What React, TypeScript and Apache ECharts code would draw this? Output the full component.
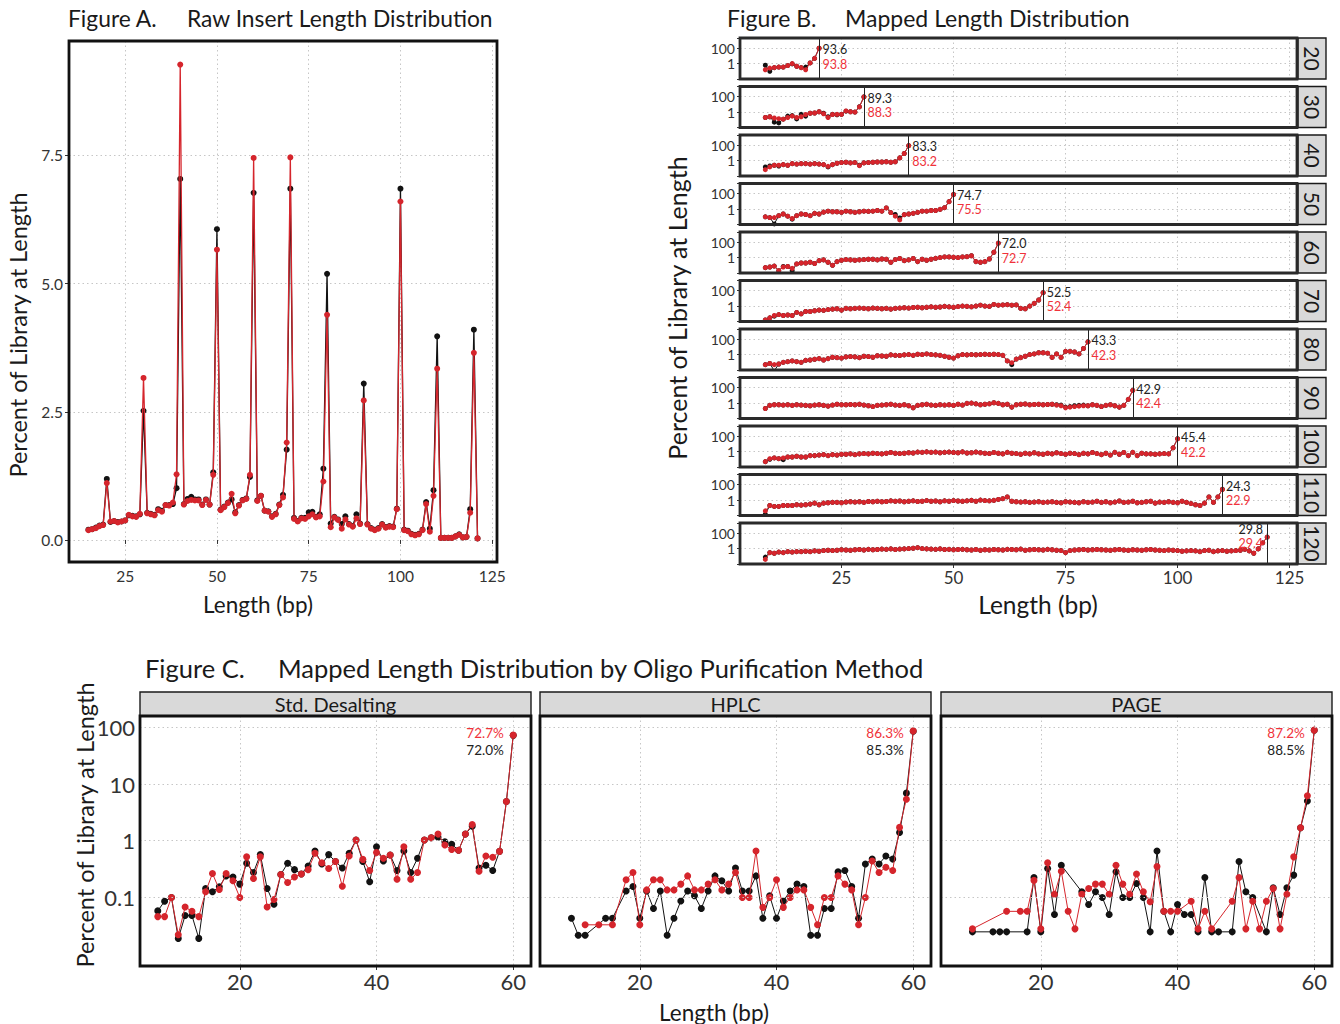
import React, { useEffect, useRef } from 'react';
import * as echarts from 'echarts';

const FONT = 'Lato, "Open Sans", "DejaVu Sans", sans-serif';
const RED = '#d5252c';
const BLACK = '#121212';
const RED_TEXT = '#f0323a';
const INK = '#1a1a1a';
const TICK_INK = '#333333';
const GRID_LINE = '#c6c6c6';

// ---------------- Figure A : raw insert length distribution ----------------
const A_FIRST_LENGTH = 15;
const A_BLACK = [
  0.2, 0.21, 0.24, 0.28, 0.3, 1.19, 0.35, 0.37, 0.35, 0.36,
  0.38, 0.48, 0.47, 0.46, 0.5, 2.52, 0.53, 0.51, 0.49, 0.6,
  0.57, 0.68, 0.68, 0.7, 1.01, 7.04, 0.7, 0.8, 0.84, 0.79,
  0.79, 0.69, 0.79, 0.69, 1.32, 6.06, 0.59, 0.65, 0.73, 0.79,
  0.54, 0.68, 0.78, 0.81, 1.23, 6.77, 0.77, 0.86, 0.57, 0.56,
  0.46, 0.51, 0.69, 0.88, 1.76, 6.85, 0.43, 0.37, 0.43, 0.43,
  0.54, 0.55, 0.45, 0.5, 1.39, 5.19, 0.32, 0.45, 0.4, 0.31,
  0.46, 0.31, 0.27, 0.5, 0.32, 3.05, 0.31, 0.23, 0.2, 0.23,
  0.31, 0.25, 0.27, 0.26, 0.61, 6.85, 0.2, 0.18, 0.12, 0.1,
  0.12, 0.2, 0.74, 0.22, 0.97, 3.97, 0.04, 0.04, 0.04, 0.04,
  0.07, 0.11, 0.05, 0.06, 0.6, 4.1, 0.03,
];
const A_RED = [
  0.19, 0.21, 0.23, 0.27, 0.29, 1.11, 0.36, 0.37, 0.34, 0.36,
  0.38, 0.49, 0.46, 0.45, 0.51, 3.16, 0.52, 0.5, 0.48, 0.58,
  0.55, 0.68, 0.67, 0.73, 1.28, 9.27, 0.69, 0.76, 0.78, 0.77,
  0.77, 0.68, 0.78, 0.69, 1.27, 5.66, 0.58, 0.64, 0.72, 0.9,
  0.52, 0.67, 0.77, 0.8, 1.27, 7.45, 0.76, 0.86, 0.57, 0.55,
  0.45, 0.5, 0.68, 0.83, 1.9, 7.46, 0.41, 0.36, 0.42, 0.41,
  0.46, 0.5, 0.44, 0.46, 1.14, 4.39, 0.25, 0.44, 0.39, 0.22,
  0.4, 0.3, 0.26, 0.42, 0.31, 2.72, 0.3, 0.22, 0.19, 0.22,
  0.3, 0.24, 0.26, 0.25, 0.6, 6.6, 0.19, 0.17, 0.11, 0.09,
  0.11, 0.19, 0.7, 0.16, 0.86, 3.34, 0.04, 0.04, 0.04, 0.04,
  0.07, 0.1, 0.05, 0.06, 0.53, 3.65, 0.03,
];
const A_X_TICKS = [25, 50, 75, 100, 125];
const A_Y_TICKS = [0, 2.5, 5, 7.5];

// ---------------- Figure B : mapped length distribution per oligo length ----------------
const B_FIRST_LENGTH = 8;
const B_PANELS = [20, 30, 40, 50, 60, 70, 80, 90, 100, 110, 120];
const B_LABEL_BLACK = ['93.6', '89.3', '83.3', '74.7', '72.0', '52.5', '43.3', '42.9', '45.4', '24.3', '29.8'];
const B_LABEL_RED = ['93.8', '88.3', '83.2', '75.5', '72.7', '52.4', '42.3', '42.4', '42.2', '22.9', '29.4'];

const B20_BLACK = [0.6, 0.1, 0.3, 0.35, 0.35, 0.55, 0.9, 0.45, 0.3, 0.35, 1.2, 4.6, 93.6];
const B20_RED = [0.16, 0.26, 0.3, 0.35, 0.35, 0.55, 1.0, 0.45, 0.3, 0.16, 1.2, 4.6, 93.8];
const B30_BLACK = [0.2, 0.25, 0.05, 0.04, 0.12, 0.3, 0.35, 0.13, 0.5, 0.3, 0.7, 0.75, 1.1, 0.7, 0.25, 0.5, 0.45, 0.5, 1.3, 1.1, 1.0, 4.8, 89.3];
const B30_RED = [0.2, 0.25, 0.17, 0.14, 0.12, 0.2, 0.3, 0.2, 0.25, 0.48, 0.7, 0.75, 1.1, 0.6, 0.2, 0.48, 0.5, 0.5, 1.4, 1.1, 1.0, 4.6, 88.3];
const B40_BLACK = [0.15, 0.2, 0.25, 0.2, 0.3, 0.25, 0.4, 0.35, 0.4, 0.4, 0.35, 0.4, 0.35, 0.3, 0.15, 0.3, 0.45, 0.55, 0.6, 0.5, 0.55, 0.25, 0.5, 0.55, 0.6, 0.65, 0.65, 0.7, 0.6, 0.7, 2.2, 8, 83.3];
const B40_RED = [0.066, 0.15, 0.25, 0.25, 0.3, 0.25, 0.4, 0.35, 0.4, 0.4, 0.35, 0.4, 0.35, 0.3, 0.18, 0.3, 0.45, 0.55, 0.6, 0.5, 0.55, 0.22, 0.5, 0.55, 0.6, 0.65, 0.65, 0.7, 0.6, 0.7, 2.2, 8, 83.2];
const B50_BLACK = [0.1, 0.08, 0.012, 0.14, 0.23, 0.12, 0.05, 0.14, 0.23, 0.2, 0.14, 0.28, 0.23, 0.4, 0.53, 0.45, 0.45, 0.38, 0.53, 0.45, 0.38, 0.45, 0.53, 0.5, 0.53, 0.65, 0.53, 1.4, 0.35, 0.2, 0.07, 0.19, 0.23, 0.28, 0.38, 0.53, 0.53, 0.65, 0.65, 0.9, 1.5, 9, 74.7];
const B50_RED = [0.1, 0.08, 0.08, 0.14, 0.23, 0.12, 0.06, 0.14, 0.23, 0.2, 0.14, 0.28, 0.23, 0.4, 0.53, 0.45, 0.45, 0.38, 0.53, 0.45, 0.38, 0.45, 0.53, 0.5, 0.53, 0.65, 0.53, 1.4, 0.35, 0.12, 0.04, 0.19, 0.23, 0.28, 0.38, 0.53, 0.53, 0.65, 0.65, 0.9, 1.5, 9, 75.5];
const B60_BLACK = [
  0.05, 0.06, 0.08, 0.02, 0.07, 0.07, 0.02, 0.15, 0.2, 0.2,
  0.25, 0.17, 0.4, 0.5, 0.25, 0.1, 0.3, 0.45, 0.55, 0.5,
  0.45, 0.5, 0.55, 0.6, 0.6, 0.5, 0.65, 0.6, 0.25, 0.55,
  0.75, 0.4, 0.5, 0.75, 0.3, 0.6, 0.45, 0.6, 0.8, 1.0,
  1.2, 1.2, 1.1, 1.0, 1.2, 1.3, 1.7, 0.3, 0.25, 0.3,
  0.65, 4.8, 72.0,
];
const B60_RED = [
  0.05, 0.06, 0.08, 0.02, 0.06, 0.07, 0.04, 0.15, 0.2, 0.2,
  0.25, 0.17, 0.4, 0.5, 0.25, 0.1, 0.3, 0.45, 0.55, 0.5,
  0.45, 0.5, 0.55, 0.6, 0.6, 0.5, 0.65, 0.6, 0.25, 0.55,
  0.75, 0.4, 0.5, 0.75, 0.3, 0.6, 0.45, 0.6, 0.8, 1.0,
  1.2, 1.2, 1.1, 1.0, 1.2, 1.3, 1.7, 0.3, 0.25, 0.3,
  0.65, 4.8, 72.7,
];
const B70_BLACK = [
  0.016, 0.03, 0.05, 0.08, 0.06, 0.07, 0.06, 0.15, 0.1, 0.2,
  0.2, 0.25, 0.3, 0.28, 0.35, 0.4, 0.45, 0.3, 0.5, 0.45,
  0.5, 0.55, 0.5, 0.45, 0.55, 0.5, 0.45, 0.5, 0.4, 0.5,
  0.55, 0.6, 0.55, 0.65, 0.7, 0.6, 0.7, 0.8, 0.7, 0.75,
  0.9, 0.8, 0.7, 0.85, 1.0, 0.9, 0.8, 1.0, 1.3, 1.0,
  0.9, 1.6, 1.3, 1.4, 1.5, 1.3, 1.4, 0.5, 0.45, 1.0,
  2.2, 6, 52.5,
];
const B70_RED = [
  0.016, 0.03, 0.06, 0.08, 0.06, 0.07, 0.06, 0.15, 0.1, 0.2,
  0.2, 0.25, 0.3, 0.28, 0.35, 0.4, 0.45, 0.3, 0.5, 0.45,
  0.5, 0.55, 0.5, 0.45, 0.55, 0.5, 0.45, 0.5, 0.4, 0.5,
  0.55, 0.6, 0.55, 0.65, 0.7, 0.6, 0.7, 0.8, 0.7, 0.75,
  0.9, 0.8, 0.7, 0.85, 1.0, 0.9, 0.8, 1.0, 1.3, 1.0,
  0.9, 1.6, 1.3, 1.4, 1.5, 1.3, 1.4, 0.5, 0.45, 1.0,
  2.2, 6, 52.4,
];
const B80_BLACK = [
  0.05, 0.07, 0.008, 0.06, 0.1, 0.12, 0.15, 0.12, 0.1, 0.18,
  0.2, 0.25, 0.3, 0.2, 0.3, 0.45, 0.4, 0.35, 0.5, 0.55,
  0.5, 0.4, 0.6, 0.55, 0.45, 0.7, 0.65, 0.6, 0.9, 0.8,
  0.75, 0.9, 1.0, 0.8, 1.1, 1.0, 1.2, 1.0, 0.9, 0.8,
  0.6, 0.45, 0.35, 0.7, 1.0, 0.9, 1.0, 0.95, 1.0, 1.1,
  1.0, 1.1, 1.0, 0.8, 0.15, 0.05, 0.26, 0.4, 0.6, 1.0,
  1.2, 1.7, 1.7, 1.5, 0.43, 1.2, 0.43, 2.6, 2.6, 2.1,
  1.2, 6, 43.3,
];
const B80_RED = [
  0.05, 0.07, 0.05, 0.06, 0.1, 0.12, 0.15, 0.12, 0.1, 0.18,
  0.2, 0.25, 0.3, 0.2, 0.3, 0.45, 0.4, 0.35, 0.5, 0.55,
  0.5, 0.4, 0.6, 0.55, 0.45, 0.7, 0.65, 0.6, 0.9, 0.8,
  0.75, 0.9, 1.0, 0.8, 1.1, 1.0, 1.2, 1.0, 0.9, 0.8,
  0.6, 0.45, 0.35, 0.7, 1.0, 0.9, 1.0, 0.95, 1.0, 1.1,
  1.0, 1.1, 1.0, 0.8, 0.15, 0.09, 0.26, 0.4, 0.6, 1.0,
  1.2, 1.7, 1.7, 1.5, 0.43, 1.2, 0.43, 2.6, 2.6, 2.1,
  1.2, 6, 42.3,
];
const B90_BLACK = [
  0.2, 0.5, 0.6, 0.6, 0.55, 0.6, 0.5, 0.6, 0.55, 0.5,
  0.45, 0.55, 0.6, 0.5, 0.4, 0.55, 0.7, 0.6, 0.6, 0.65,
  0.6, 0.7, 0.55, 0.45, 0.35, 0.5, 0.55, 0.6, 0.7, 0.55,
  0.5, 0.6, 0.45, 0.25, 0.5, 0.6, 0.7, 0.55, 0.5, 0.6,
  0.55, 0.6, 0.5, 0.7, 0.55, 0.9, 1.0, 0.8, 0.6, 0.7,
  0.8, 1.1, 0.9, 0.6, 0.7, 0.3, 0.6, 0.7, 0.75, 0.6,
  0.65, 0.7, 0.6, 0.65, 0.7, 0.6, 0.55, 0.3, 0.35, 0.45,
  0.5, 0.55, 0.45, 0.6, 0.5, 0.35, 0.5, 0.6, 0.45, 0.3,
  0.5, 3.0, 42.9,
];
const B90_RED = [
  0.2, 0.5, 0.6, 0.6, 0.55, 0.6, 0.5, 0.6, 0.55, 0.5,
  0.45, 0.55, 0.6, 0.5, 0.4, 0.55, 0.7, 0.6, 0.6, 0.65,
  0.6, 0.7, 0.55, 0.45, 0.35, 0.5, 0.55, 0.6, 0.7, 0.55,
  0.5, 0.6, 0.45, 0.25, 0.5, 0.6, 0.7, 0.55, 0.5, 0.6,
  0.55, 0.6, 0.5, 0.7, 0.55, 0.9, 1.0, 0.8, 0.6, 0.7,
  0.8, 1.1, 0.9, 0.6, 0.7, 0.3, 0.6, 0.7, 0.75, 0.6,
  0.65, 0.7, 0.6, 0.65, 0.7, 0.55, 0.45, 0.25, 0.3, 0.35,
  0.4, 0.45, 0.45, 0.6, 0.5, 0.35, 0.5, 0.6, 0.45, 0.3,
  0.5, 3.0, 42.4,
];
const B100_BLACK = [
  0.05, 0.1, 0.15, 0.12, 0.09, 0.2, 0.2, 0.25, 0.2, 0.2,
  0.3, 0.3, 0.35, 0.4, 0.3, 0.4, 0.35, 0.45, 0.45, 0.5,
  0.4, 0.5, 0.55, 0.5, 0.6, 0.55, 0.5, 0.6, 0.75, 0.6,
  0.55, 0.6, 0.7, 0.65, 0.85, 0.8, 0.9, 0.8, 0.85, 0.7,
  0.8, 0.85, 0.75, 0.7, 0.9, 0.65, 0.7, 0.85, 0.7, 0.6,
  0.55, 0.75, 0.6, 0.5, 0.8, 0.6, 0.55, 0.45, 0.6, 0.5,
  0.7, 0.5, 0.45, 0.6, 0.5, 0.7, 0.55, 0.45, 0.6, 0.55,
  0.4, 0.6, 0.5, 0.75, 0.55, 0.4, 0.6, 0.35, 0.8, 0.45,
  0.75, 0.3, 0.8, 0.3, 0.6, 0.5, 0.5, 0.45, 0.5, 0.55,
  0.5, 3.0, 45.4,
];
const B100_RED = [
  0.05, 0.12, 0.15, 0.12, 0.15, 0.2, 0.2, 0.25, 0.2, 0.2,
  0.3, 0.3, 0.35, 0.4, 0.3, 0.4, 0.35, 0.45, 0.45, 0.5,
  0.4, 0.5, 0.55, 0.5, 0.6, 0.55, 0.5, 0.6, 0.75, 0.6,
  0.55, 0.6, 0.7, 0.65, 0.85, 0.8, 0.9, 0.8, 0.85, 0.7,
  0.8, 0.85, 0.75, 0.7, 0.9, 0.65, 0.7, 0.85, 0.7, 0.6,
  0.55, 0.75, 0.6, 0.5, 0.8, 0.6, 0.55, 0.45, 0.6, 0.5,
  0.7, 0.5, 0.45, 0.6, 0.5, 0.7, 0.55, 0.45, 0.6, 0.55,
  0.4, 0.6, 0.5, 0.75, 0.55, 0.4, 0.6, 0.35, 0.8, 0.45,
  0.75, 0.3, 0.8, 0.3, 0.6, 0.5, 0.5, 0.45, 0.5, 0.55,
  0.5, 3.0, 42.2,
];
const B110_BLACK = [
  0.015, 0.2, 0.15, 0.15, 0.2, 0.2, 0.2, 0.25, 0.22, 0.25,
  0.3, 0.4, 0.25, 0.4, 0.45, 0.5, 0.5, 0.45, 0.55, 0.6,
  0.55, 0.6, 0.5, 0.65, 0.6, 0.7, 0.6, 0.65, 0.8, 0.7,
  0.75, 0.6, 0.7, 0.8, 0.65, 0.7, 0.85, 0.7, 0.75, 0.6,
  0.8, 0.7, 0.85, 0.75, 0.7, 0.8, 0.9, 0.7, 1.0, 0.85,
  0.8, 0.9, 1.2, 1.5, 2.5, 0.7, 0.6, 0.55, 0.6, 0.5,
  0.55, 0.6, 0.5, 0.55, 0.6, 0.5, 0.45, 0.6, 0.55, 0.5,
  0.45, 0.6, 0.5, 0.55, 0.7, 0.5, 0.6, 0.45, 0.55, 0.75,
  0.5, 0.55, 0.7, 0.45, 0.5, 0.6, 0.7, 0.4, 0.55, 0.5,
  0.6, 0.5, 0.45, 0.7, 0.5, 0.35, 0.25, 0.2, 0.4, 2.5,
  0.5, 2.5, 24.3,
];
const B110_RED = [
  0.04, 0.2, 0.15, 0.15, 0.2, 0.2, 0.2, 0.25, 0.22, 0.25,
  0.3, 0.4, 0.25, 0.4, 0.45, 0.5, 0.5, 0.45, 0.55, 0.6,
  0.55, 0.6, 0.5, 0.65, 0.6, 0.7, 0.6, 0.65, 0.8, 0.7,
  0.75, 0.6, 0.7, 0.8, 0.65, 0.7, 0.85, 0.7, 0.75, 0.6,
  0.8, 0.7, 0.85, 0.75, 0.7, 0.8, 0.9, 0.7, 1.0, 0.85,
  0.8, 0.9, 1.2, 1.5, 2.5, 0.7, 0.6, 0.55, 0.6, 0.5,
  0.55, 0.6, 0.5, 0.55, 0.6, 0.5, 0.45, 0.6, 0.55, 0.5,
  0.45, 0.6, 0.5, 0.55, 0.7, 0.5, 0.6, 0.45, 0.55, 0.75,
  0.5, 0.55, 0.7, 0.45, 0.5, 0.6, 0.7, 0.4, 0.55, 0.5,
  0.6, 0.5, 0.45, 0.7, 0.5, 0.35, 0.25, 0.2, 0.4, 2.5,
  0.5, 2.5, 22.9,
];
const B120_BLACK = [
  0.08, 0.3, 0.25, 0.35, 0.3, 0.4, 0.35, 0.4, 0.4, 0.45,
  0.4, 0.5, 0.45, 0.55, 0.6, 0.55, 0.6, 0.7, 0.65, 0.6,
  0.7, 0.75, 0.65, 0.8, 0.7, 0.75, 0.85, 0.8, 0.9, 0.75,
  0.85, 0.9, 1.0, 1.1, 1.3, 1.0, 0.9, 0.85, 0.8, 0.9,
  0.75, 0.8, 0.7, 0.75, 0.8, 0.7, 0.65, 0.75, 0.6, 0.7,
  0.65, 0.75, 0.7, 0.65, 0.8, 0.75, 0.7, 0.85, 0.6, 0.7,
  0.75, 0.7, 0.65, 0.8, 0.7, 0.6, 0.55, 0.3, 0.55, 0.65,
  0.7, 0.75, 0.65, 0.7, 0.75, 0.7, 0.65, 0.6, 0.7, 0.75,
  0.65, 0.6, 0.7, 0.65, 0.6, 0.7, 0.75, 0.65, 0.6, 0.55,
  0.65, 0.6, 0.55, 0.45, 0.5, 0.55, 0.5, 0.4, 0.55, 0.6,
  0.4, 0.5, 0.55, 0.45, 0.5, 0.55, 0.6, 0.8, 0.5, 0.25,
  0.9, 5.5, 29.8,
];
const B120_RED = [
  0.04, 0.3, 0.25, 0.35, 0.3, 0.4, 0.35, 0.4, 0.4, 0.45,
  0.4, 0.5, 0.45, 0.55, 0.6, 0.55, 0.6, 0.7, 0.65, 0.6,
  0.7, 0.75, 0.65, 0.8, 0.7, 0.75, 0.85, 0.8, 0.9, 0.75,
  0.85, 0.9, 1.0, 1.1, 1.3, 1.0, 0.9, 0.85, 0.8, 0.9,
  0.75, 0.8, 0.7, 0.75, 0.8, 0.7, 0.65, 0.75, 0.6, 0.7,
  0.65, 0.75, 0.7, 0.65, 0.8, 0.75, 0.7, 0.85, 0.6, 0.7,
  0.75, 0.7, 0.65, 0.8, 0.7, 0.6, 0.55, 0.3, 0.55, 0.65,
  0.7, 0.75, 0.65, 0.7, 0.75, 0.7, 0.65, 0.6, 0.7, 0.75,
  0.65, 0.6, 0.7, 0.65, 0.6, 0.7, 0.75, 0.65, 0.6, 0.55,
  0.65, 0.6, 0.55, 0.45, 0.5, 0.55, 0.5, 0.4, 0.55, 0.6,
  0.4, 0.5, 0.55, 0.45, 0.5, 0.55, 0.6, 0.8, 0.5, 0.25,
  0.9, 5.5, 29.4,
];
const B_BLACK = [B20_BLACK, B30_BLACK, B40_BLACK, B50_BLACK, B60_BLACK, B70_BLACK, B80_BLACK, B90_BLACK, B100_BLACK, B110_BLACK, B120_BLACK];
const B_RED = [B20_RED, B30_RED, B40_RED, B50_RED, B60_RED, B70_RED, B80_RED, B90_RED, B100_RED, B110_RED, B120_RED];
const B_X_TICKS = [25, 50, 75, 100, 125];
const B_Y_TICKS = [1, 100];

// ---------------- Figure C : by oligo purification method ----------------
const C_METHODS = ['Std. Desalting', 'HPLC', 'PAGE'];
const C_LABEL_RED = ['72.7%', '86.3%', '87.2%'];
const C_LABEL_BLACK = ['72.0%', '85.3%', '88.5%'];
const C_Y_TICKS = [0.1, 1, 10, 100];
const C_X_TICKS = [20, 40, 60];

const C_SD_X = [8, 9, 10, 11, 12, 13, 14, 15, 16, 17, 18, 19, 20, 21, 22, 23, 24, 25, 26, 27, 28, 29, 30, 31, 32, 33, 34, 35, 36, 37, 38, 39, 40, 41, 42, 43, 44, 45, 46, 47, 48, 49, 50, 51, 52, 53, 54, 55, 56, 57, 58, 59, 60];
const C_SD_BLACK = [
  0.058, 0.086, 0.10, 0.019, 0.048, 0.048, 0.019, 0.144, 0.126, 0.154,
  0.24, 0.23, 0.172, 0.4, 0.276, 0.57, 0.144, 0.076, 0.255, 0.4,
  0.31, 0.26, 0.36, 0.66, 0.39, 0.57, 0.43, 0.33, 0.6, 1.03,
  0.43, 0.19, 0.78, 0.44, 0.56, 0.30, 0.66, 0.276, 0.49, 1.03,
  1.13, 1.15, 0.96, 0.87, 0.68, 1.31, 1.81, 0.33, 0.37, 0.30,
  0.65, 4.9, 72.0,
];
const C_SD_RED = [
  0.046, 0.046, 0.10, 0.022, 0.068, 0.057, 0.046, 0.126, 0.265, 0.138,
  0.265, 0.197, 0.10, 0.52, 0.216, 0.52, 0.068, 0.092, 0.255, 0.184,
  0.23, 0.26, 0.31, 0.6, 0.41, 0.325, 0.43, 0.158, 0.54, 1.03,
  0.47, 0.30, 0.62, 0.49, 0.56, 0.21, 0.78, 0.21, 0.276, 1.03,
  1.13, 1.31, 0.84, 0.70, 0.68, 1.31, 1.94, 0.29, 0.54, 0.51,
  0.65, 4.9, 72.7,
];
const C_HPLC_BLACK_X = [10, 11, 12, 15, 16, 18, 19, 20, 21, 22, 23, 24, 25, 26, 27, 28, 29, 30, 31, 32, 33, 34, 35, 36, 37, 38, 39, 40, 41, 42, 43, 44, 45, 46, 47, 48, 49, 50, 51, 52, 53, 54, 55, 56, 57, 58, 59, 60];
const C_HPLC_BLACK = [
  0.043, 0.0216, 0.0216, 0.043, 0.043,
  0.13, 0.156, 0.043, 0.13, 0.064, 0.13, 0.0216, 0.043, 0.087, 0.13,
  0.107, 0.064, 0.13, 0.24, 0.197, 0.13, 0.33, 0.13, 0.13, 0.24,
  0.043, 0.107, 0.043, 0.087, 0.13, 0.172, 0.156, 0.0216, 0.0216, 0.064,
  0.064, 0.284, 0.30, 0.156, 0.043, 0.39, 0.475, 0.39, 0.54, 0.475,
  1.4, 6.9, 85.3,
];
const C_HPLC_RED_X = [12, 14, 16, 18, 19, 20, 21, 22, 23, 24, 25, 26, 27, 28, 29, 30, 31, 32, 33, 34, 35, 36, 37, 38, 39, 40, 41, 42, 43, 44, 45, 46, 47, 48, 49, 50, 51, 52, 53, 54, 55, 56, 57, 58, 59, 60];
const C_HPLC_RED = [
  0.033, 0.033, 0.033,
  0.205, 0.276, 0.033, 0.136, 0.205, 0.205, 0.136, 0.136, 0.172, 0.24,
  0.136, 0.136, 0.172, 0.205, 0.136, 0.172, 0.276, 0.1, 0.1, 0.66,
  0.067, 0.1, 0.205, 0.067, 0.1, 0.136, 0.136, 0.067, 0.033, 0.1,
  0.1, 0.24, 0.172, 0.136, 0.033, 0.1, 0.44, 0.276, 0.34, 0.30,
  1.72, 5.4, 86.3,
];
const C_PAGE_BLACK_X = [10, 13, 14, 15, 18, 19, 20, 21, 22, 23, 26, 27, 28, 29, 30, 31, 32, 33, 34, 35, 36, 37, 38, 39, 40, 41, 42, 43, 44, 45, 46, 48, 49, 50, 51, 53, 54, 55, 56, 57, 58, 59, 60];
const C_PAGE_BLACK = [
  0.0248, 0.0248, 0.0248, 0.0248,
  0.0248, 0.225, 0.0248, 0.325, 0.05, 0.37,
  0.126, 0.075, 0.126, 0.1, 0.05, 0.284, 0.1, 0.1, 0.177, 0.1, 0.0248, 0.66, 0.057, 0.0248, 0.075, 0.05, 0.05, 0.0248, 0.225, 0.0248, 0.0248,
  0.0248, 0.43, 0.126, 0.1,
  0.0248, 0.148, 0.05, 0.148, 0.248, 1.7, 5.0, 88.5,
];
const C_PAGE_RED_X = [10, 15, 17, 18, 19, 20, 21, 22, 23, 24, 25, 26, 27, 28, 29, 30, 31, 32, 33, 34, 35, 36, 37, 38, 39, 40, 42, 43, 44, 45, 48, 49, 50, 51, 52, 53, 54, 55, 56, 57, 58, 59, 60];
const C_PAGE_RED = [
  0.028, 0.057,
  0.057, 0.057, 0.2, 0.028, 0.41, 0.114, 0.29, 0.057, 0.028, 0.114,
  0.144, 0.172, 0.172, 0.114, 0.37, 0.172, 0.114, 0.26, 0.126, 0.084,
  0.35, 0.057, 0.057, 0.057,
  0.086, 0.028, 0.057, 0.028,
  0.086, 0.225, 0.028, 0.086, 0.028, 0.086, 0.144, 0.028, 0.114, 0.52, 1.7, 6.2, 89,
];
const C_BLACK_X = [C_SD_X, C_HPLC_BLACK_X, C_PAGE_BLACK_X];
const C_BLACK = [C_SD_BLACK, C_HPLC_BLACK, C_PAGE_BLACK];
const C_RED_X = [C_SD_X, C_HPLC_RED_X, C_PAGE_RED_X];
const C_RED = [C_SD_RED, C_HPLC_RED, C_PAGE_RED];

// ---------------- helpers ----------------
const fromStart = (start: number, ys: number[]) => ys.map((y, i) => [start + i, y]);
const zip = (xs: number[], ys: number[]) => xs.map((x, i) => [x, ys[i]]);
const stepFormatter = (step: number, digits: number) => (v: number) => {
  const k = v / step;
  return Math.abs(k - Math.round(k)) < 1e-6 ? (Math.abs(v) < 1e-9 ? 0 : v).toFixed(digits) : '';
};
const listFormatter = (list: number[]) => (v: number) => {
  const hit = list.find((t) => Math.abs(Math.log10(v) - Math.log10(t)) < 1e-6);
  return hit === undefined ? '' : String(hit);
};
const dottedSplit = { show: true, lineStyle: { color: GRID_LINE, width: 1, type: [1.5, 3] } };
const textEl = (text: string, x: number, y: number, size: number, opts: any = {}) => ({
  type: 'text',
  x,
  y,
  rotation: opts.rotation || 0,
  silent: true,
  z: 60,
  style: {
    text,
    fontSize: size,
    fontFamily: FONT,
    fill: opts.fill || INK,
    align: opts.align || 'left',
    verticalAlign: 'middle',
  },
});
const borderEl = (x: number, y: number, w: number, h: number, color: string, lw: number) => ({
  type: 'rect',
  silent: true,
  z: 55,
  shape: { x, y, width: w, height: h },
  style: { fill: 'none', stroke: color, lineWidth: lw },
});
const stripEl = (x: number, y: number, w: number, h: number) => ({
  type: 'rect',
  silent: true,
  z: 50,
  shape: { x, y, width: w, height: h },
  style: { fill: '#d9d9d9', stroke: INK, lineWidth: 1.4 },
});

function buildOption() {
  const grid: any[] = [];
  const xAxis: any[] = [];
  const yAxis: any[] = [];
  const series: any[] = [];
  const graphic: any[] = [];

  // ---------- Figure A ----------
  const A = { left: 69, top: 41, width: 428, height: 521 };
  grid.push({ ...A });
  xAxis.push({
    gridIndex: 0, type: 'value', min: 9.7, max: 126.3, minInterval: 25, maxInterval: 25,
    axisLine: { show: false },
    axisTick: { show: true, length: 4, customValues: A_X_TICKS, lineStyle: { color: TICK_INK } },
    axisLabel: { customValues: A_X_TICKS, formatter: stepFormatter(25, 0), fontSize: 15.5, color: TICK_INK, margin: 6 },
    splitLine: dottedSplit,
  });
  yAxis.push({
    gridIndex: 0, type: 'value', min: -0.43, max: 9.73, minInterval: 2.5, maxInterval: 2.5,
    axisLine: { show: false },
    axisTick: { show: true, length: 4, customValues: A_Y_TICKS, lineStyle: { color: TICK_INK } },
    axisLabel: { customValues: A_Y_TICKS, formatter: stepFormatter(2.5, 1), fontSize: 15.5, color: TICK_INK, margin: 6 },
    splitLine: dottedSplit,
  });
  series.push({
    type: 'line', xAxisIndex: 0, yAxisIndex: 0, data: fromStart(A_FIRST_LENGTH, A_BLACK),
    symbol: 'circle', symbolSize: 6, showAllSymbol: true, z: 3,
    lineStyle: { color: BLACK, width: 1.3 }, itemStyle: { color: BLACK },
  });
  series.push({
    type: 'line', xAxisIndex: 0, yAxisIndex: 0, data: fromStart(A_FIRST_LENGTH, A_RED),
    symbol: 'circle', symbolSize: 6, showAllSymbol: true, z: 4,
    lineStyle: { color: RED, width: 1.3 }, itemStyle: { color: RED },
  });
  graphic.push(borderEl(A.left, A.top, A.width, A.height, '#111', 2.8));
  graphic.push(textEl('Figure A.', 68, 18, 22.8));
  graphic.push(textEl('Raw Insert Length Distribution', 187, 18, 22.8));
  graphic.push(textEl('Percent of Library at Length', 18, 335, 23.5, { align: 'center', rotation: Math.PI / 2 }));
  graphic.push(textEl('Length (bp)', 258, 604, 22.5, { align: 'center' }));

  // ---------- Figure B ----------
  const B_LEFT = 740;
  const B_WIDTH = 557;
  const B_TOP0 = 38;
  const B_PITCH = 48.5;
  const B_HEIGHT = 41;
  B_PANELS.forEach((len, i) => {
    const gi = grid.length;
    const top = B_TOP0 + i * B_PITCH;
    const last = i === B_PANELS.length - 1;
    grid.push({ left: B_LEFT, top, width: B_WIDTH, height: B_HEIGHT });
    xAxis.push({
      gridIndex: gi, type: 'value', min: 2.35, max: 126.65, minInterval: 25, maxInterval: 25,
      axisLine: { show: false },
      axisTick: { show: last, length: 4, customValues: B_X_TICKS, lineStyle: { color: TICK_INK } },
      axisLabel: { show: last, customValues: B_X_TICKS, formatter: stepFormatter(25, 0), fontSize: 17, color: TICK_INK, margin: 5 },
      splitLine: dottedSplit,
    });
    yAxis.push({
      gridIndex: gi, type: 'log', logBase: 100, min: 0.0102, max: 1950,
      axisLine: { show: false },
      axisTick: { show: true, length: 3, lineStyle: { color: TICK_INK } },
      axisLabel: { formatter: listFormatter(B_Y_TICKS), fontSize: 14, color: TICK_INK, margin: 5 },
      splitLine: dottedSplit,
    });
    series.push({
      type: 'line', xAxisIndex: gi, yAxisIndex: gi, data: fromStart(B_FIRST_LENGTH, B_BLACK[i]),
      symbol: 'circle', symbolSize: 5, showAllSymbol: true, z: 3,
      lineStyle: { color: BLACK, width: 1 }, itemStyle: { color: BLACK },
    });
    const right = !last;
    series.push({
      type: 'line', xAxisIndex: gi, yAxisIndex: gi, data: fromStart(B_FIRST_LENGTH, B_RED[i]),
      symbol: 'circle', symbolSize: 5, showAllSymbol: true, z: 4,
      lineStyle: { color: RED, width: 1 }, itemStyle: { color: RED },
      markLine: {
        silent: true, symbol: ['none', 'none'], label: { show: false },
        lineStyle: { color: '#222', width: 1, type: 'solid' },
        data: [{ xAxis: len }],
      },
      markPoint: {
        silent: true,
        data: [
          {
            coord: right ? [len, 60] : [119.2, 300], symbol: 'circle', symbolSize: 1, itemStyle: { color: 'rgba(0,0,0,0)' },
            label: { show: true, position: right ? 'right' : 'left', distance: right ? 3 : 0, formatter: B_LABEL_BLACK[i], color: '#222', fontSize: 12.5, fontFamily: FONT },
          },
          {
            coord: right ? [len, 0.85] : [119.2, 4.2], symbol: 'circle', symbolSize: 1, itemStyle: { color: 'rgba(0,0,0,0)' },
            label: { show: true, position: right ? 'right' : 'left', distance: right ? 3 : 0, formatter: B_LABEL_RED[i], color: RED_TEXT, fontSize: 12.5, fontFamily: FONT },
          },
        ],
      },
    });
    graphic.push(borderEl(B_LEFT, top, B_WIDTH, B_HEIGHT, '#2a2a2a', 2.8));
    graphic.push(stripEl(B_LEFT + B_WIDTH + 1, top, 28, B_HEIGHT));
    graphic.push(textEl(String(len), B_LEFT + B_WIDTH + 15, top + B_HEIGHT / 2, 21, { align: 'center', rotation: -Math.PI / 2 }));
  });
  graphic.push(textEl('Figure B.', 727, 18, 23));
  graphic.push(textEl('Mapped Length Distribution', 845, 18, 23));
  graphic.push(textEl('Percent of Library at Length', 677, 308, 25, { align: 'center', rotation: Math.PI / 2 }));
  graphic.push(textEl('Length (bp)', 1038, 604, 24.5, { align: 'center' }));

  // ---------- Figure C ----------
  const C_LEFTS = [140, 540, 941];
  const C_WIDTH = 391;
  const C_TOP = 716;
  const C_HEIGHT = 250;
  const C_STRIP_TOP = 692;
  C_METHODS.forEach((name, j) => {
    const gi = grid.length;
    const left = C_LEFTS[j];
    grid.push({ left, top: C_TOP, width: C_WIDTH, height: C_HEIGHT });
    xAxis.push({
      gridIndex: gi, type: 'value', min: 5.4, max: 62.6, minInterval: 20, maxInterval: 20,
      axisLine: { show: false },
      axisTick: { show: true, length: 4, customValues: C_X_TICKS, lineStyle: { color: TICK_INK } },
      axisLabel: { customValues: C_X_TICKS, formatter: stepFormatter(20, 0), fontSize: 22, color: TICK_INK, margin: 4 },
      splitLine: dottedSplit,
    });
    yAxis.push({
      gridIndex: gi, type: 'log', logBase: 10, min: 0.0062, max: 158,
      axisLine: { show: false },
      axisTick: { show: false },
      axisLabel: { show: j === 0, formatter: listFormatter(C_Y_TICKS), fontSize: 22, color: TICK_INK, margin: 5 },
      splitLine: { show: false },
    });
    series.push({
      type: 'line', xAxisIndex: gi, yAxisIndex: gi, data: zip(C_BLACK_X[j], C_BLACK[j]),
      symbol: 'circle', symbolSize: 7, showAllSymbol: true, z: 3,
      lineStyle: { color: BLACK, width: 1 }, itemStyle: { color: BLACK },
      markLine: {
        silent: true, symbol: ['none', 'none'], label: { show: false },
        lineStyle: { color: GRID_LINE, width: 1, type: [1.5, 3] },
        data: C_Y_TICKS.map((t) => ({ yAxis: t })),
      },
    });
    series.push({
      type: 'line', xAxisIndex: gi, yAxisIndex: gi, data: zip(C_RED_X[j], C_RED[j]),
      symbol: 'circle', symbolSize: 7, showAllSymbol: true, z: 4,
      lineStyle: { color: RED, width: 1 }, itemStyle: { color: RED },
      markPoint: {
        silent: true,
        data: [
          {
            coord: [58.7, 78], symbol: 'circle', symbolSize: 1, itemStyle: { color: 'rgba(0,0,0,0)' },
            label: { show: true, position: 'left', distance: 0, formatter: C_LABEL_RED[j], color: RED_TEXT, fontSize: 13.5, fontFamily: FONT },
          },
          {
            coord: [58.7, 40], symbol: 'circle', symbolSize: 1, itemStyle: { color: 'rgba(0,0,0,0)' },
            label: { show: true, position: 'left', distance: 0, formatter: C_LABEL_BLACK[j], color: '#222', fontSize: 13.5, fontFamily: FONT },
          },
        ],
      },
    });
    graphic.push(borderEl(left, C_TOP, C_WIDTH, C_HEIGHT, '#111', 2.8));
    graphic.push(stripEl(left, C_STRIP_TOP, C_WIDTH, C_TOP - C_STRIP_TOP));
    graphic.push(textEl(name, left + C_WIDTH / 2, (C_STRIP_TOP + C_TOP) / 2, 20, { align: 'center' }));
  });
  graphic.push(textEl('Figure C.', 145, 668, 25.5));
  graphic.push(textEl('Mapped Length Distribution by Oligo Purification Method', 278, 668, 25.5));
  graphic.push(textEl('Percent of Library at Length', 85, 825, 23.5, { align: 'center', rotation: Math.PI / 2 }));
  graphic.push(textEl('Length (bp)', 714, 1012, 22.5, { align: 'center' }));

  return {
    animation: false,
    backgroundColor: '#ffffff',
    textStyle: { fontFamily: FONT },
    grid,
    xAxis,
    yAxis,
    series,
    graphic: { elements: graphic },
  };
}

export default function App() {
  const ref = useRef<HTMLDivElement>(null);
  useEffect(() => {
    if (!ref.current) return;
    const chart = echarts.init(ref.current, null, { renderer: 'svg', width: 1340, height: 1024 });
    chart.setOption(buildOption() as any);
    return () => chart.dispose();
  }, []);
  return (
    <div
      ref={ref}
      style={{ position: 'absolute', left: 0, top: 0, width: 1340, height: 1024, background: '#ffffff' }}
    />
  );
}
